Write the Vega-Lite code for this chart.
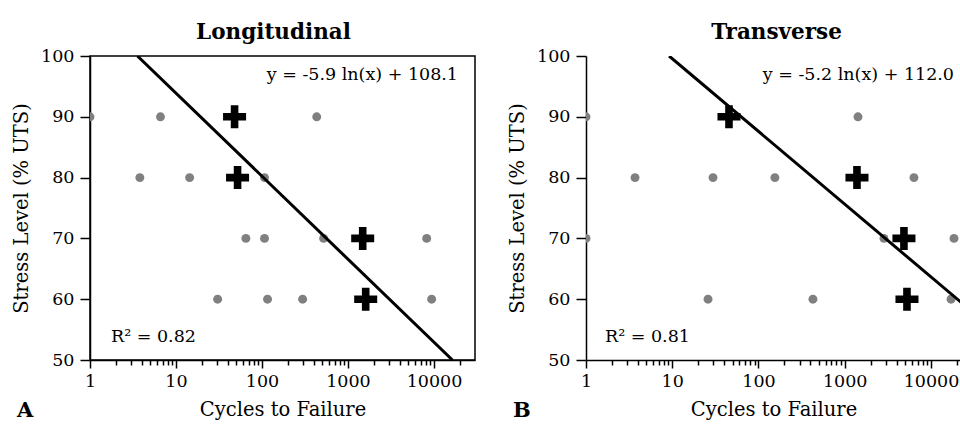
{
  "$schema": "https://vega.github.io/schema/vega-lite/v6.json",
  "background": "white",
  "padding": {"left": 10, "top": 20, "right": 0, "bottom": 0},
  "bounds": "flush",
  "spacing": 111,
  "config": {
    "view": {"stroke": "#000", "strokeWidth": 1.5},
    "axis": {"domainColor": "#000", "domainWidth": 1.5, "tickColor": "#000", "tickWidth": 1.5, "labelColor": "#000", "titleColor": "#000", "labelFont": "DejaVu Serif", "titleFont": "DejaVu Serif", "labelFontSize": 17.5, "titleFontSize": 19.5, "titleFontWeight": "normal", "grid": false},
    "title": {"font": "DejaVu Serif", "fontSize": 21.5, "fontWeight": "bold", "color": "#000"}
  },
  "datasets": {
    "points": [
      {"panel": "Longitudinal", "kind": "specimen", "cycles": 1, "stress": 90},
      {"panel": "Longitudinal", "kind": "specimen", "cycles": 6.6, "stress": 90},
      {"panel": "Longitudinal", "kind": "specimen", "cycles": 433, "stress": 90},
      {"panel": "Longitudinal", "kind": "specimen", "cycles": 3.8, "stress": 80},
      {"panel": "Longitudinal", "kind": "specimen", "cycles": 14.4, "stress": 80},
      {"panel": "Longitudinal", "kind": "specimen", "cycles": 107, "stress": 80},
      {"panel": "Longitudinal", "kind": "specimen", "cycles": 65, "stress": 70},
      {"panel": "Longitudinal", "kind": "specimen", "cycles": 107, "stress": 70},
      {"panel": "Longitudinal", "kind": "specimen", "cycles": 521, "stress": 70},
      {"panel": "Longitudinal", "kind": "specimen", "cycles": 8230, "stress": 70},
      {"panel": "Longitudinal", "kind": "specimen", "cycles": 30.5, "stress": 60},
      {"panel": "Longitudinal", "kind": "specimen", "cycles": 116, "stress": 60},
      {"panel": "Longitudinal", "kind": "specimen", "cycles": 297, "stress": 60},
      {"panel": "Longitudinal", "kind": "specimen", "cycles": 9400, "stress": 60},
      {"panel": "Longitudinal", "kind": "mean", "cycles": 48, "stress": 90},
      {"panel": "Longitudinal", "kind": "mean", "cycles": 52, "stress": 80},
      {"panel": "Longitudinal", "kind": "mean", "cycles": 1483, "stress": 70},
      {"panel": "Longitudinal", "kind": "mean", "cycles": 1607, "stress": 60},
      {"panel": "Transverse", "kind": "specimen", "cycles": 1, "stress": 90},
      {"panel": "Transverse", "kind": "specimen", "cycles": 1425, "stress": 90},
      {"panel": "Transverse", "kind": "specimen", "cycles": 1, "stress": 70},
      {"panel": "Transverse", "kind": "specimen", "cycles": 3.7, "stress": 80},
      {"panel": "Transverse", "kind": "specimen", "cycles": 29.7, "stress": 80},
      {"panel": "Transverse", "kind": "specimen", "cycles": 155, "stress": 80},
      {"panel": "Transverse", "kind": "specimen", "cycles": 6350, "stress": 80},
      {"panel": "Transverse", "kind": "specimen", "cycles": 2850, "stress": 70},
      {"panel": "Transverse", "kind": "specimen", "cycles": 18500, "stress": 70},
      {"panel": "Transverse", "kind": "specimen", "cycles": 26, "stress": 60},
      {"panel": "Transverse", "kind": "specimen", "cycles": 428, "stress": 60},
      {"panel": "Transverse", "kind": "specimen", "cycles": 17100, "stress": 60},
      {"panel": "Transverse", "kind": "mean", "cycles": 45.5, "stress": 90},
      {"panel": "Transverse", "kind": "mean", "cycles": 1387, "stress": 80},
      {"panel": "Transverse", "kind": "mean", "cycles": 4860, "stress": 70},
      {"panel": "Transverse", "kind": "mean", "cycles": 5270, "stress": 60}
    ],
    "fitLine": [
      {"panel": "Longitudinal", "cycles": 3.56, "stress": 100},
      {"panel": "Longitudinal", "cycles": 16400, "stress": 50},
      {"panel": "Transverse", "cycles": 9.2, "stress": 100},
      {"panel": "Transverse", "cycles": 22300, "stress": 59.5}
    ],
    "fitStats": [
      {"panel": "Longitudinal", "letter": "A", "equation": "y = -5.9 ln(x) + 108.1", "r2": "R² = 0.82"},
      {"panel": "Transverse", "letter": "B", "equation": "y = -5.2 ln(x) + 112.0", "r2": "R² = 0.81"}
    ]
  },
  "hconcat": [
    {
      "width": 385,
      "height": 304,
      "title": {"text": "Longitudinal", "dx": -9},
      "layer": [
        {
          "data": {"name": "points"},
          "transform": [{"filter": "datum.panel === 'Longitudinal' && datum.kind === 'specimen'"}],
          "mark": {"type": "circle", "size": 80, "color": "#808080", "opacity": 1, "clip": true},
          "encoding": {
            "x": {"field": "cycles", "type": "quantitative",
              "scale": {"type": "log", "domain": [1, 30000], "nice": false},
              "axis": {"title": "Cycles to Failure", "values": [1,2,3,4,5,6,7,8,9,10,20,30,40,50,60,70,80,90,100,200,300,400,500,600,700,800,900,1000,2000,3000,4000,5000,6000,7000,8000,9000,10000,20000],
                "format": "d", "labelExpr": "indexof([1,10,100,1000,10000], datum.value) >= 0 ? datum.label : ''",
                "labelOverlap": false, "labelFlush": false, "labelPadding": 4, "titlePadding": 11,
                "tickSize": {"condition": {"test": "indexof([1,10,100,1000,10000], datum.value) >= 0", "value": 8}, "value": 5}}},
            "y": {"field": "stress", "type": "quantitative",
              "scale": {"domain": [50, 100], "nice": false, "zero": false},
              "axis": {"title": "Stress Level (% UTS)", "values": [50,60,70,80,90,100], "tickSize": 10, "labelPadding": 6, "titlePadding": 9}}
          }
        },
        {
          "data": {"name": "fitLine"},
          "transform": [{"filter": "datum.panel === 'Longitudinal'"}],
          "mark": {"type": "line", "color": "#000", "strokeWidth": 3, "clip": true},
          "encoding": {"x": {"field": "cycles", "type": "quantitative"}, "y": {"field": "stress", "type": "quantitative"}}
        },
        {
          "data": {"name": "points"},
          "transform": [{"filter": "datum.panel === 'Longitudinal' && datum.kind === 'mean'"}],
          "mark": {"type": "point", "shape": "M-1,-0.33H-0.33V-1H0.33V-0.33H1V0.33H0.33V1H-0.33V0.33H-1Z", "filled": true, "color": "#000", "opacity": 1, "size": 530},
          "encoding": {"x": {"field": "cycles", "type": "quantitative"}, "y": {"field": "stress", "type": "quantitative"}}
        },
        {
          "data": {"name": "fitStats"},
          "transform": [{"filter": "datum.panel === 'Longitudinal'"}],
          "layer": [
            {"mark": {"type": "text", "font": "DejaVu Serif", "align": "right", "baseline": "alphabetic", "fontSize": 17.5, "dx": -17, "color": "#000"},
             "encoding": {"x": {"datum": 30000, "type": "quantitative"}, "y": {"datum": 96, "type": "quantitative"}, "text": {"field": "equation"}}},
            {"mark": {"type": "text", "font": "DejaVu Serif", "align": "left", "baseline": "alphabetic", "fontSize": 17.5, "dx": 21, "color": "#000"},
             "encoding": {"x": {"datum": 1, "type": "quantitative"}, "y": {"datum": 53, "type": "quantitative"}, "text": {"field": "r2"}}},
            {"mark": {"type": "text", "font": "DejaVu Serif", "align": "left", "baseline": "alphabetic", "fontSize": 21, "fontWeight": "bold", "dx": -73, "color": "#000"},
             "encoding": {"x": {"datum": 1, "type": "quantitative"}, "y": {"datum": 40.6, "type": "quantitative"}, "text": {"field": "letter"}}}
          ]
        }
      ]
    },
    {
      "width": 375,
      "height": 304,
      "view": {"stroke": null},
      "title": {"text": "Transverse", "dx": 3},
      "layer": [
        {
          "mark": {"type": "rule", "color": "#000", "strokeWidth": 1.5},
          "encoding": {"y": {"datum": 100, "type": "quantitative"}}
        },
        {
          "data": {"name": "points"},
          "transform": [{"filter": "datum.panel === 'Transverse' && datum.kind === 'specimen'"}],
          "mark": {"type": "circle", "size": 80, "color": "#808080", "opacity": 1, "clip": true},
          "encoding": {
            "x": {"field": "cycles", "type": "quantitative",
              "scale": {"type": "log", "domain": [1, 22300], "nice": false},
              "axis": {"title": "Cycles to Failure", "values": [1,2,3,4,5,6,7,8,9,10,20,30,40,50,60,70,80,90,100,200,300,400,500,600,700,800,900,1000,2000,3000,4000,5000,6000,7000,8000,9000,10000,20000],
                "format": "d", "labelExpr": "indexof([1,10,100,1000,10000], datum.value) >= 0 ? datum.label : ''",
                "labelOverlap": false, "labelFlush": false, "labelPadding": 4, "titlePadding": 11,
                "tickSize": {"condition": {"test": "indexof([1,10,100,1000,10000], datum.value) >= 0", "value": 8}, "value": 5}}},
            "y": {"field": "stress", "type": "quantitative",
              "scale": {"domain": [50, 100], "nice": false, "zero": false},
              "axis": {"title": "Stress Level (% UTS)", "values": [50,60,70,80,90,100], "tickSize": 10, "labelPadding": 6, "titlePadding": 9}}
          }
        },
        {
          "data": {"name": "fitLine"},
          "transform": [{"filter": "datum.panel === 'Transverse'"}],
          "mark": {"type": "line", "color": "#000", "strokeWidth": 3, "clip": true},
          "encoding": {"x": {"field": "cycles", "type": "quantitative"}, "y": {"field": "stress", "type": "quantitative"}}
        },
        {
          "data": {"name": "points"},
          "transform": [{"filter": "datum.panel === 'Transverse' && datum.kind === 'mean'"}],
          "mark": {"type": "point", "shape": "M-1,-0.33H-0.33V-1H0.33V-0.33H1V0.33H0.33V1H-0.33V0.33H-1Z", "filled": true, "color": "#000", "opacity": 1, "size": 530},
          "encoding": {"x": {"field": "cycles", "type": "quantitative"}, "y": {"field": "stress", "type": "quantitative"}}
        },
        {
          "data": {"name": "fitStats"},
          "transform": [{"filter": "datum.panel === 'Transverse'"}],
          "layer": [
            {"mark": {"type": "text", "font": "DejaVu Serif", "align": "right", "baseline": "alphabetic", "fontSize": 17.5, "dx": -7, "color": "#000"},
             "encoding": {"x": {"datum": 22300, "type": "quantitative"}, "y": {"datum": 96, "type": "quantitative"}, "text": {"field": "equation"}}},
            {"mark": {"type": "text", "font": "DejaVu Serif", "align": "left", "baseline": "alphabetic", "fontSize": 17.5, "dx": 19, "color": "#000"},
             "encoding": {"x": {"datum": 1, "type": "quantitative"}, "y": {"datum": 53, "type": "quantitative"}, "text": {"field": "r2"}}},
            {"mark": {"type": "text", "font": "DejaVu Serif", "align": "left", "baseline": "alphabetic", "fontSize": 21, "fontWeight": "bold", "dx": -73, "color": "#000"},
             "encoding": {"x": {"datum": 1, "type": "quantitative"}, "y": {"datum": 40.6, "type": "quantitative"}, "text": {"field": "letter"}}}
          ]
        }
      ]
    }
  ]
}
